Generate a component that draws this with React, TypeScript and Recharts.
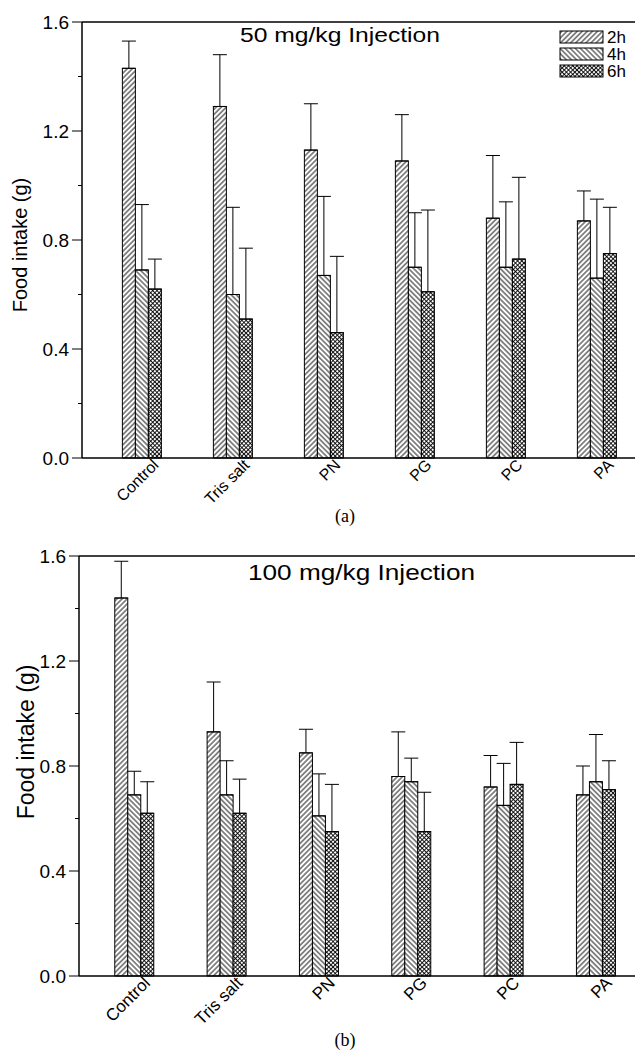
import React from 'react';
import { BarChart, Bar, XAxis, YAxis, ErrorBar } from 'recharts';

const categories = ['Control', 'Tris salt', 'PN', 'PG', 'PC', 'PA'];
const seriesNames = ['2h', '4h', '6h'];
const yTicks = [0, 0.2, 0.4, 0.6, 0.8, 1.0, 1.2, 1.4, 1.6];

// (a) 50 mg/kg
const a2h = [1.43, 1.29, 1.13, 1.09, 0.88, 0.87];
const a4h = [0.69, 0.6, 0.67, 0.7, 0.7, 0.66];
const a6h = [0.62, 0.51, 0.46, 0.61, 0.73, 0.75];
const aErr2h = [0.1, 0.19, 0.17, 0.17, 0.23, 0.11];
const aErr4h = [0.24, 0.32, 0.29, 0.2, 0.24, 0.29];
const aErr6h = [0.11, 0.26, 0.28, 0.3, 0.3, 0.17];

// (b) 100 mg/kg
const b2h = [1.44, 0.93, 0.85, 0.76, 0.72, 0.69];
const b4h = [0.69, 0.69, 0.61, 0.74, 0.65, 0.74];
const b6h = [0.62, 0.62, 0.55, 0.55, 0.73, 0.71];
const bErr2h = [0.14, 0.19, 0.09, 0.17, 0.12, 0.11];
const bErr4h = [0.09, 0.13, 0.16, 0.09, 0.16, 0.18];
const bErr6h = [0.12, 0.13, 0.18, 0.15, 0.16, 0.11];

const buildRows = (m: number[][], e: number[][]) =>
  categories.map((name, i) => {
    const row: any = { name };
    seriesNames.forEach((s, k) => {
      row[s] = m[k][i];
      // only the upper half of the error bar is drawn
      row['e' + s] = [0, e[k][i]];
    });
    return row;
  });

const dataA = buildRows([a2h, a4h, a6h], [aErr2h, aErr4h, aErr6h]);
const dataB = buildRows([b2h, b4h, b6h], [bErr2h, bErr4h, bErr6h]);

const FONT = '"Liberation Sans", Arial, sans-serif';

const YTick = (props: any) => {
  const { x, y, payload, fontSize } = props;
  const v = payload.value;
  const major = Math.round(v * 10) % 4 === 0;
  return (
    <g>
      <line x1={x - (major ? 10 : 4)} x2={x} y1={y} y2={y} stroke="#000" strokeWidth={1} />
      {major && (
        <text x={x - 13} y={y} dy="0.36em" textAnchor="end" fontSize={fontSize} fontFamily={FONT} fill="#000">
          {v.toFixed(1)}
        </text>
      )}
    </g>
  );
};

const XTick = (props: any) => {
  const { x, y, payload, fontSize, dx } = props;
  return (
    <g transform={`translate(${x + dx},${y + 8})`}>
      <text textAnchor="end" transform="rotate(-45)" fontSize={fontSize} fontFamily={FONT} fill="#000">
        {payload.value}
      </text>
    </g>
  );
};

const patterns = (
  <svg width={0} height={0} style={{ position: 'absolute' }}>
    <defs>
      <pattern id="p2h" patternUnits="userSpaceOnUse" width={3.6} height={3.6} patternTransform="rotate(45)">
        <rect width={3.6} height={3.6} fill="#fff" />
        <line x1={1.8} y1={0} x2={1.8} y2={3.6} stroke="#000" strokeWidth={0.9} />
      </pattern>
      <pattern id="p4h" patternUnits="userSpaceOnUse" width={3.6} height={3.6} patternTransform="rotate(-45)">
        <rect width={3.6} height={3.6} fill="#fff" />
        <line x1={1.8} y1={0} x2={1.8} y2={3.6} stroke="#000" strokeWidth={0.9} />
      </pattern>
      <pattern id="p6h" patternUnits="userSpaceOnUse" width={3} height={3} patternTransform="rotate(45)">
        <rect width={3} height={3} fill="#fff" />
        <line x1={1.5} y1={0} x2={1.5} y2={3} stroke="#000" strokeWidth={0.9} />
        <line x1={0} y1={1.5} x2={3} y2={1.5} stroke="#000" strokeWidth={0.9} />
      </pattern>
    </defs>
  </svg>
);

type PanelProps = {
  data: any[];
  top: number;
  height: number;
  marginTop: number;
  yWidth: number;
  padLeft: number;
  tickFont: number;
  xFont: number;
  xDx: number;
};

// plot area runs past the right edge of the page, like the cropped original
const Panel = ({ data, top, height, marginTop, yWidth, padLeft, tickFont, xFont, xDx }: PanelProps) => (
  <div style={{ position: 'absolute', left: 0, top, width: 635, height, overflow: 'hidden' }}>
    <BarChart
      width={760}
      height={height}
      data={data}
      margin={{ top: marginTop, right: 20, left: 0, bottom: 0 }}
      barCategoryGap="29%"
      barGap={0}
    >
      <XAxis
        dataKey="name"
        height={62}
        tickLine={false}
        tickSize={0}
        tickMargin={0}
        interval={0}
        padding={{ left: padLeft, right: 740 - 642 }}
        axisLine={{ stroke: '#000', strokeWidth: 1.5 }}
        tick={<XTick fontSize={xFont} dx={xDx} />}
      />
      <YAxis
        width={yWidth}
        domain={[0, 1.6]}
        ticks={yTicks}
        interval={0}
        tickLine={false}
        tickSize={0}
        tickMargin={0}
        axisLine={{ stroke: '#000', strokeWidth: 1.5 }}
        tick={<YTick fontSize={tickFont} />}
      />
      {seriesNames.map((s) => (
        <Bar key={s} dataKey={s} fill={`url(#p${s})`} stroke="#000" strokeWidth={1} isAnimationActive={false}>
          <ErrorBar dataKey={'e' + s} width={7} stroke="#000" strokeWidth={1} direction="y" />
        </Bar>
      ))}
    </BarChart>
  </div>
);

const App = () => (
  <div
    style={{
      position: 'absolute',
      left: 0,
      top: 0,
      width: 635,
      height: 1055,
      overflow: 'hidden',
      background: '#fff',
      fontFamily: FONT,
    }}
  >
    {patterns}
    <Panel data={dataA} top={0} height={520} marginTop={22} yWidth={82} padLeft={14} tickFont={19} xFont={16} xDx={18} />
    <Panel data={dataB} top={530} height={508} marginTop={26} yWidth={79} padLeft={9} tickFont={19} xFont={17} xDx={17} />
    <svg width={635} height={1055} style={{ position: 'absolute', left: 0, top: 0, pointerEvents: 'none' }}>
      <line x1={82} x2={635} y1={22} y2={22} stroke="#000" strokeWidth={1.5} />
      <line x1={79} x2={635} y1={556} y2={556} stroke="#000" strokeWidth={1.5} />
      <text x={22} y={245} transform="rotate(-90 22 245)" textAnchor="middle" dominantBaseline="middle" fontSize={20} fontFamily={FONT}>
        Food intake (g)
      </text>
      <text x={28} y={742} transform="rotate(-90 28 742)" textAnchor="middle" dominantBaseline="middle" fontSize={23} fontFamily={FONT}>
        Food intake (g)
      </text>
      <text x={240} y={42} fontSize={20} fontFamily={FONT} textLength={200} lengthAdjust="spacingAndGlyphs">
        50 mg/kg Injection
      </text>
      <text x={248} y={580} fontSize={22} fontFamily={FONT} textLength={227} lengthAdjust="spacingAndGlyphs">
        100 mg/kg Injection
      </text>
      {seriesNames.map((s, i) => (
        <g key={s}>
          <rect x={560} y={31 + i * 17} width={43} height={12} fill={`url(#p${s})`} stroke="#000" strokeWidth={1} />
          <text x={607} y={37 + i * 17} dy="0.36em" fontSize={17} fontFamily={FONT}>
            {s}
          </text>
        </g>
      ))}
      <text x={345} y={522} textAnchor="middle" fontSize={18} fontFamily='"Liberation Serif", "Times New Roman", serif'>
        (a)
      </text>
      <text x={345} y={1046} textAnchor="middle" fontSize={18} fontFamily='"Liberation Serif", "Times New Roman", serif'>
        (b)
      </text>
    </svg>
  </div>
);

export default App;
